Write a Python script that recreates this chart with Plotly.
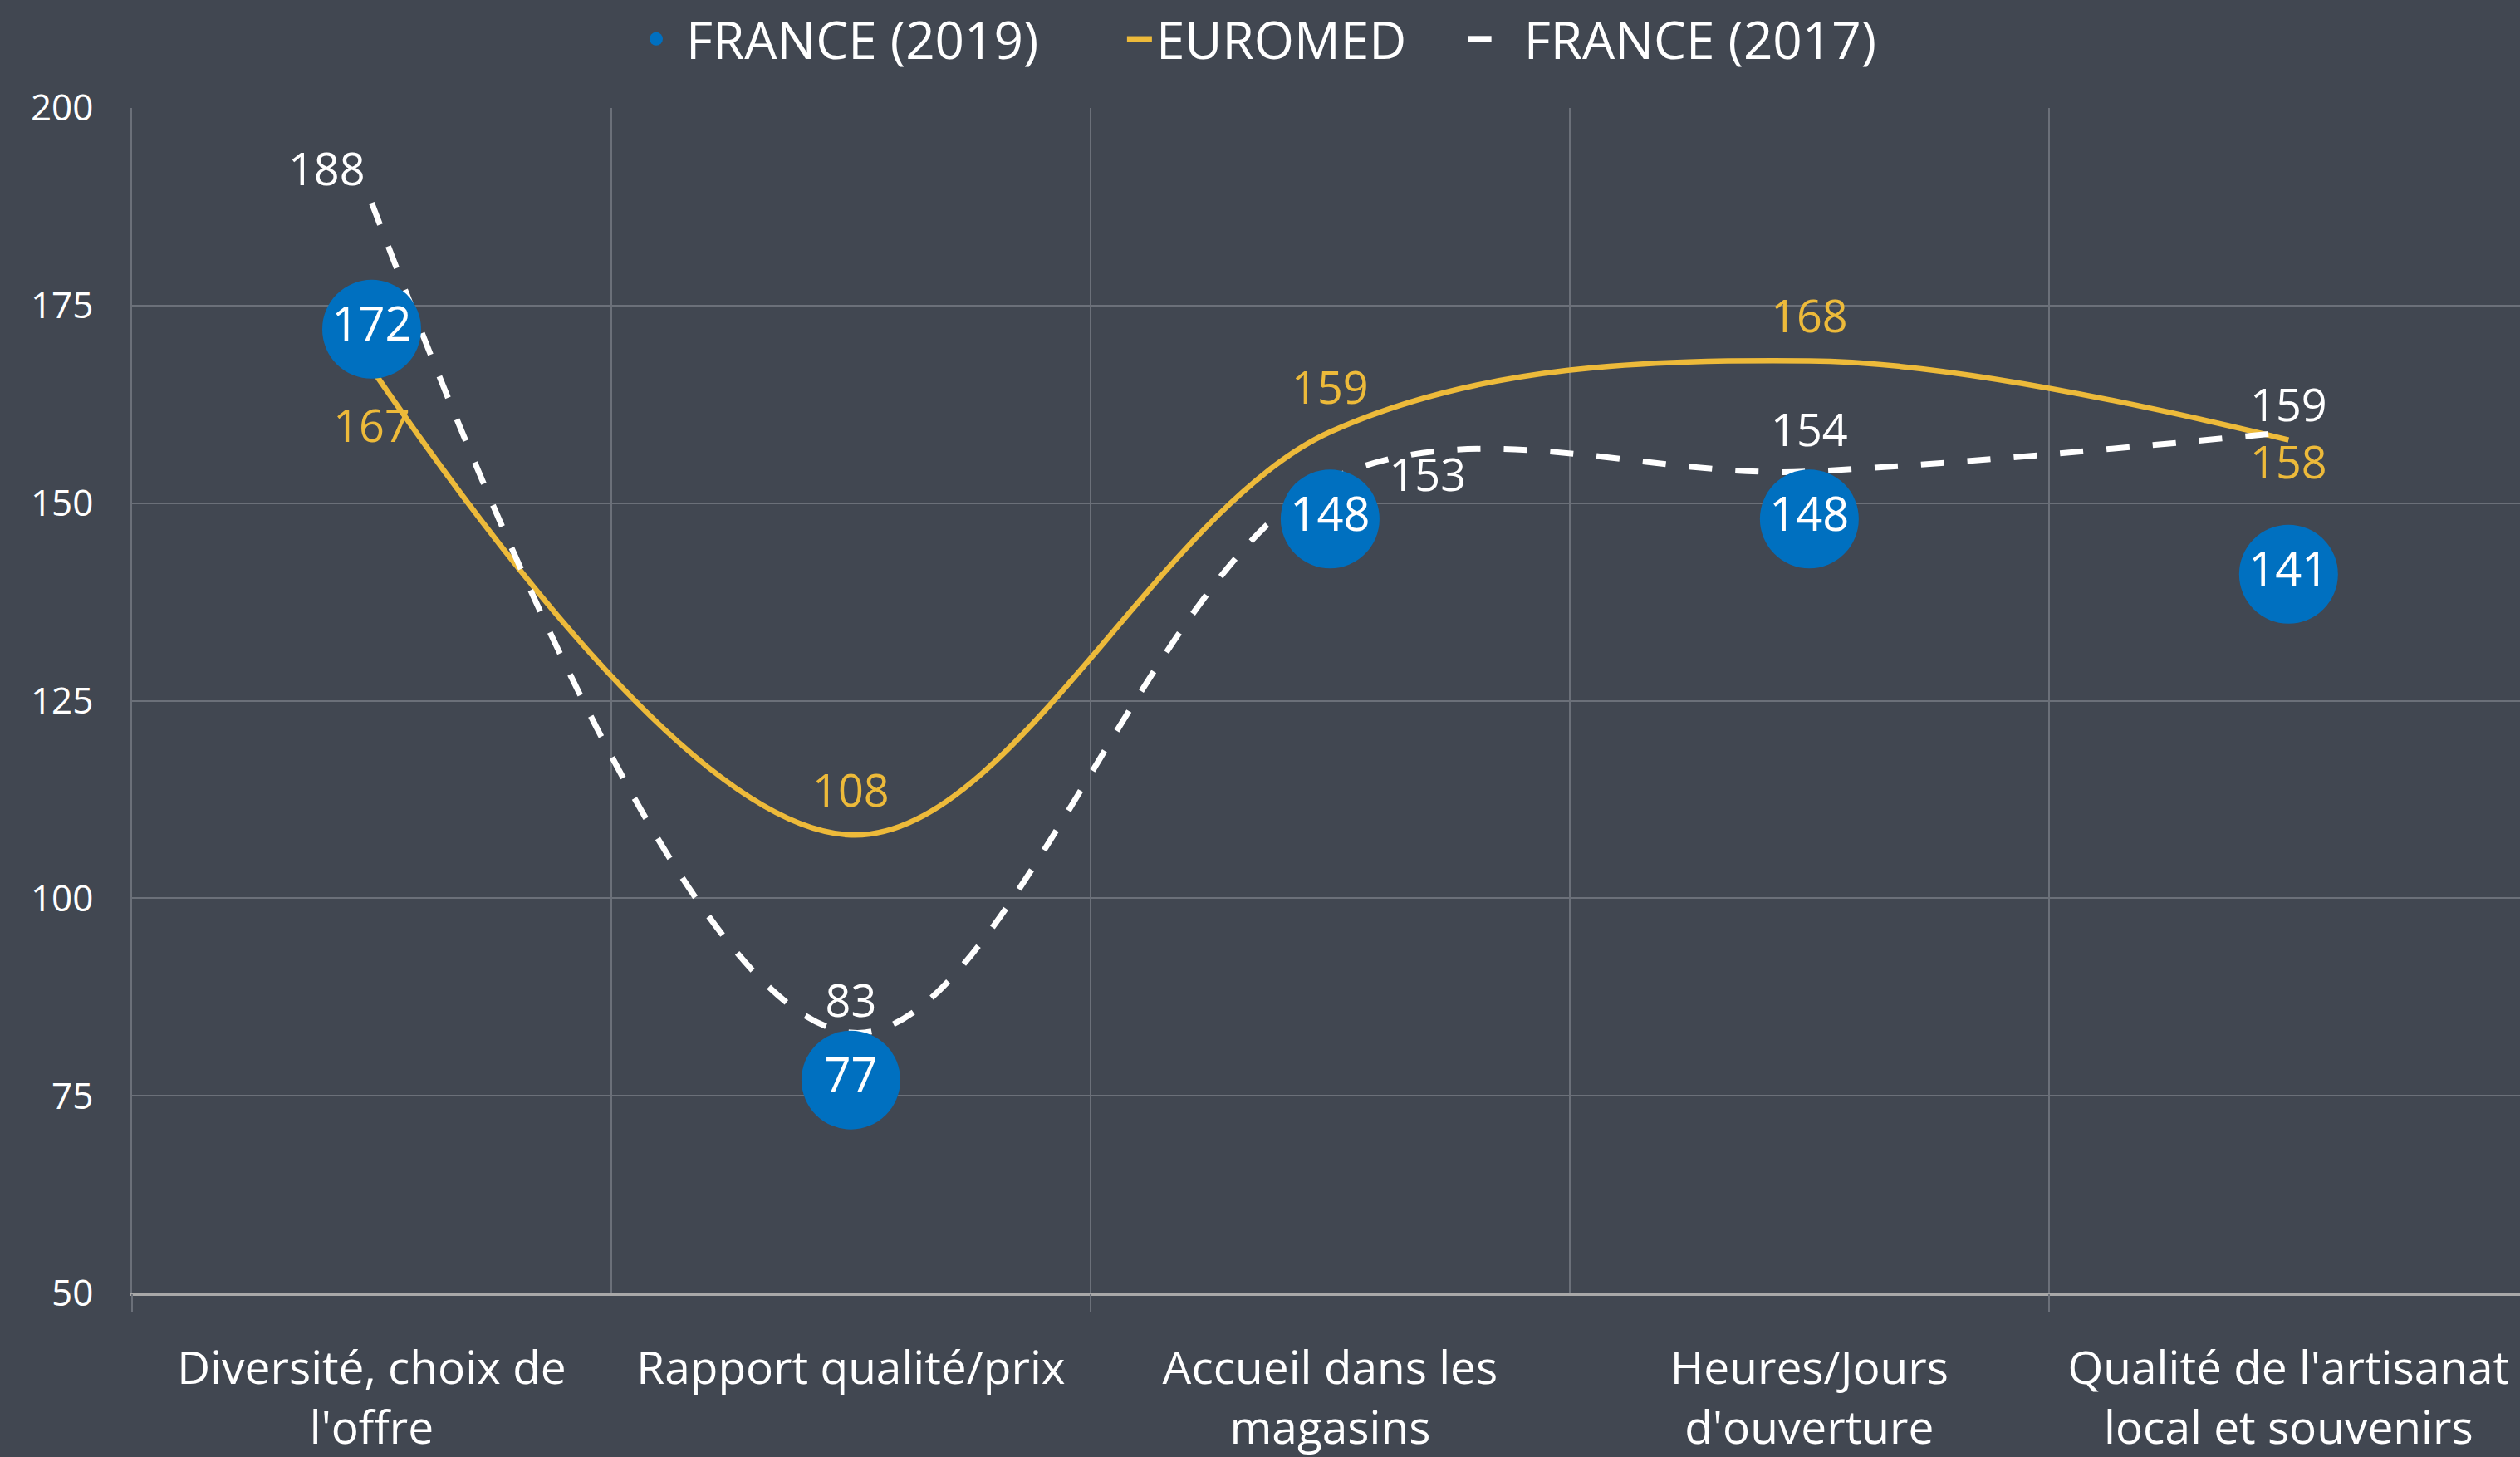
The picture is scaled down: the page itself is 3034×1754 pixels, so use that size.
import plotly.graph_objects as go

categories = [
    "Diversité, choix de<br>l'offre",
    "Rapport qualité/prix",
    "Accueil dans les<br>magasins",
    "Heures/Jours<br>d'ouverture",
    "Qualité de l'artisanat<br>local et souvenirs",
]
france_2019 = [172, 77, 148, 148, 141]
euromed = [167, 108, 159, 168, 158]
france_2017 = [188, 83, 153, 154, 159]

y_ticks = [50, 75, 100, 125, 150, 175, 200]

# label placement styles (not data)
euromed_textpos = ["bottom center", "top center", "top center", "top center", "bottom center"]
euromed_offset = [74, 32, 32, 32, 8]
f2017_textpos = ["top left", "top center", "middle right", "top center", "top center"]
f2017_offset = [11, 8, 112, 26, 0]

BG = "#414751"
GRID = "#6b7079"
BLUE = "#0070C0"
YELLOW = "#EDBA3A"
WHITE = "#FFFFFF"
FONT = "Open Sans"
NB = "\u00a0"

fig = go.Figure()

fig.add_trace(go.Scatter(
    x=categories, y=euromed, name="EUROMED" + NB * 4,
    mode="lines+markers+text",
    line=dict(color=YELLOW, width=6.5, shape="spline", smoothing=1),
    marker=dict(size=euromed_offset, color="rgba(0,0,0,0)", line=dict(width=0)),
    text=[str(v) for v in euromed], textposition=euromed_textpos,
    textfont=dict(family=FONT, size=54, color=YELLOW),
    hoverinfo="skip", legendrank=2, cliponaxis=False,
))

fig.add_trace(go.Scatter(
    x=categories, y=france_2017, name=NB * 2 + "FRANCE (2017)",
    mode="lines+markers+text",
    line=dict(color=WHITE, width=7, shape="spline", smoothing=1, dash="28px,28px"),
    marker=dict(size=f2017_offset, color="rgba(0,0,0,0)", line=dict(width=0)),
    text=[str(v) for v in france_2017], textposition=f2017_textpos,
    textfont=dict(family=FONT, size=54, color=WHITE),
    hoverinfo="skip", legendrank=3, cliponaxis=False,
))

fig.add_trace(go.Scatter(
    x=categories, y=france_2019, name=NB + "FRANCE (2019)" + NB * 6,
    mode="markers+text",
    marker=dict(size=119, color=BLUE, line=dict(width=0)),
    text=[str(v) for v in france_2019], textposition="middle center",
    textfont=dict(family=FONT, size=56, color=WHITE),
    hoverinfo="skip", legendrank=1, cliponaxis=False,
))

# helper trace so the secondary tick axis is drawn
fig.add_trace(go.Scatter(x=[None], y=[None], xaxis="x2", showlegend=False, hoverinfo="skip"))

X_RANGE = [-0.5, 4.483]

fig.update_layout(
    width=3034, height=1754,
    paper_bgcolor=BG, plot_bgcolor=BG,
    margin=dict(l=159, r=0, t=130, b=192),
    font=dict(family=FONT, color=WHITE),
    showlegend=True,
    legend=dict(
        orientation="h", xref="container", yref="container",
        x=0.5, xanchor="center", y=1.0, yanchor="top",
        font=dict(family=FONT, size=62, color=WHITE),
        bgcolor="rgba(0,0,0,0)", traceorder="normal",
    ),
    xaxis=dict(
        type="category", range=X_RANGE,
        tickson="boundaries", showgrid=True, gridcolor=GRID, gridwidth=1.5,
        ticks="", showline=True, linecolor="#a8a8a8", linewidth=3,
        tickfont=dict(family=FONT, size=55, color=WHITE),
        ticklabelstandoff=40, zeroline=False,
    ),
    xaxis2=dict(
        overlaying="x", anchor="y", side="bottom", range=X_RANGE,
        tickvals=[-0.5, 1.5, 3.5], ticks="outside", ticklen=22, tickwidth=1.5,
        tickcolor=GRID, showticklabels=False, showgrid=False, zeroline=False,
        showline=False,
    ),
    yaxis=dict(
        range=[50, 200], tickvals=y_ticks, showgrid=True, gridcolor=GRID, gridwidth=1.5,
        zeroline=False, showline=True, linecolor=GRID, linewidth=1.5,
        tickfont=dict(family=FONT, size=44, color=WHITE),
        ticks="", ticklabelstandoff=36,
    ),
)

fig.write_html(
    "out.html",
    config={"displayModeBar": False},
    post_script="document.body.style.margin='0';document.body.style.overflow='hidden';",
)
